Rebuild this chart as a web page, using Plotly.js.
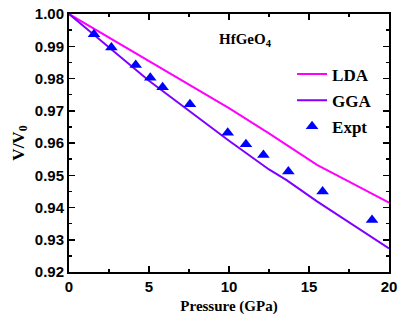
<!DOCTYPE html>
<html>
<head>
<meta charset="utf-8">
<script src="https://cdn.plot.ly/plotly-3.0.1.min.js"></script>
<style>html,body{margin:0;padding:0;background:#fff;}#chart{width:402px;height:316px;}</style>
</head>
<body>
<div id="chart"></div>
<script>
var ldaP = [0, 2.5, 5, 7.5, 10, 12.5, 15.5, 17.5, 20];
var ldaV = [1.0, 0.9927, 0.9854, 0.9781, 0.9708, 0.9630, 0.9532, 0.9480, 0.9415];
var ggaP = [0, 2.5, 5, 7.5, 10, 12.5, 13.6, 15.5, 17.5, 20];
var ggaV = [1.0, 0.9895, 0.9793, 0.9700, 0.9607, 0.9518, 0.9485, 0.9419, 0.9354, 0.9273];
var exptP = [1.56, 2.65, 4.17, 5.08, 5.85, 7.56, 9.92, 11.06, 12.15, 13.71, 15.85, 18.94];
var exptV = [0.9937, 0.9896, 0.9842, 0.9802, 0.9773, 0.9720, 0.9632, 0.9596, 0.9563, 0.9512, 0.9450, 0.9361];
var xTickVals = [0, 5, 10, 15, 20];
var xTickText = ['0', '5', '10', '15', '20'];
var yTickVals = [0.92, 0.93, 0.94, 0.95, 0.96, 0.97, 0.98, 0.99, 1.00];
var yTickText = ['0.92', '0.93', '0.94', '0.95', '0.96', '0.97', '0.98', '0.99', '1.00'];

var serif = 'Liberation Serif, Times New Roman, serif';
var sans = 'Liberation Sans, Arial, sans-serif';

var traces = [
  {x: ldaP, y: ldaV, mode: 'lines', name: 'LDA', legendgroup: 'a',
   line: {color: '#ff00ff', width: 2}},
  {x: ggaP, y: ggaV, mode: 'lines', name: 'GGA', legendgroup: 'b',
   line: {color: '#7f00ff', width: 2}},
  {x: exptP, y: exptV, mode: 'markers', name: 'Expt', legendgroup: 'c',
   marker: {symbol: 'triangle-up', size: 11, color: '#0000ff'}}
];

var axisCommon = {
  showline: true, linecolor: '#000', linewidth: 2, mirror: 'allticks',
  ticks: 'inside', ticklen: 6, tickwidth: 1.5, tickcolor: '#000',
  showgrid: false, zeroline: false,
  tickfont: {family: sans, size: 15, color: '#000', weight: 700}
};

var layout = {
  width: 402, height: 316,
  margin: {l: 69, r: 13, t: 14, b: 44},
  paper_bgcolor: '#fff', plot_bgcolor: '#fff',
  showlegend: true,
  legend: {x: 0.697, y: 0.835, xanchor: 'left', yanchor: 'top',
           bgcolor: 'rgba(0,0,0,0)', tracegroupgap: 1,
           font: {family: serif, size: 17, color: '#000', weight: 700}},
  xaxis: Object.assign({}, axisCommon, {
    range: [0, 20], tickvals: xTickVals, ticktext: xTickText,
    minor: {dtick: 2.5, ticks: 'inside', ticklen: 3, tickwidth: 1.5, tickcolor: '#000'},
    title: {text: 'Pressure (GPa)', font: {family: serif, size: 15, color: '#000', weight: 700}, standoff: 6}
  }),
  yaxis: Object.assign({}, axisCommon, {
    range: [0.92, 1.00], tickvals: yTickVals, ticktext: yTickText,
    minor: {dtick: 0.005, ticks: 'inside', ticklen: 3, tickwidth: 1.5, tickcolor: '#000'},
    title: {text: 'V/V<sub>0</sub>', font: {family: serif, size: 17, color: '#000', weight: 700}, standoff: 6}
  }),
  annotations: [
    {text: 'HfGeO<sub>4</sub>', xref: 'paper', yref: 'paper', x: 0.55, y: 0.90,
     xanchor: 'center', yanchor: 'middle', showarrow: false,
     font: {family: serif, size: 15, color: '#000', weight: 700}}
  ]
};

Plotly.newPlot('chart', traces, layout, {displayModeBar: false, staticPlot: true});
</script>
</body>
</html>
